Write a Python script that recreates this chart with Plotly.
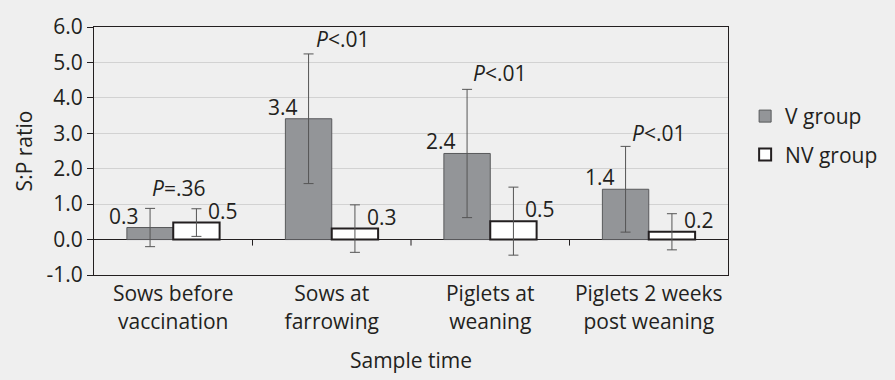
import plotly.graph_objects as go

categories = ["Sows before<br>vaccination", "Sows at<br>farrowing",
              "Piglets at<br>weaning", "Piglets 2 weeks<br>post weaning"]
v_mean = [0.34, 3.41, 2.43, 1.42]
v_err = [0.54, 1.83, 1.81, 1.21]
nv_mean = [0.48, 0.31, 0.52, 0.22]
nv_err = [0.39, 0.67, 0.96, 0.51]
v_labels = ["0.3", "3.4", "2.4", "1.4"]
nv_labels = ["0.5", "0.3", "0.5", "0.2"]
p_labels = ["<i>P</i>=.36", "<i>P</i>&lt;.01", "<i>P</i>&lt;.01", "<i>P</i>&lt;.01"]
p_y = [1.46, 5.66, 4.69, 3.0]
y_tickvals = [-1, 0, 1, 2, 3, 4, 5, 6]
y_ticktext = ["-1.0", "0.0", "1.0", "2.0", "3.0", "4.0", "5.0", "6.0"]

FONT = "Open Sans"
FS = 21
TXT = "#231f20"
P_DX = [5, 11, 9, 10]  # horizontal label nudges (style)

fig = go.Figure()
fig.add_trace(go.Bar(
    x=categories, y=v_mean, name="V group", legendgroup="a",
    marker=dict(color="#939598", line=dict(color="#58595b", width=1)),
    error_y=dict(type="data", array=v_err, color="#555555", thickness=1, width=5),
))
fig.add_trace(go.Bar(
    x=categories, y=nv_mean, name="NV group", legendgroup="b",
    marker=dict(color="#ffffff", line=dict(color="#231f20", width=2)),
    error_y=dict(type="data", array=nv_err, color="#555555", thickness=1, width=5),
))

ann = []
for i in range(len(categories)):
    ann.append(dict(x=i, y=v_mean[i], text=v_labels[i], showarrow=False,
                    xref="x", yref="y", xshift=-49, yshift=12, yanchor="middle",
                    font=dict(family=FONT, size=FS, color=TXT)))
    ann.append(dict(x=i, y=nv_mean[i], text=nv_labels[i], showarrow=False,
                    xref="x", yref="y", xshift=50, yshift=12, yanchor="middle",
                    font=dict(family=FONT, size=FS, color=TXT)))
    ann.append(dict(x=i, y=p_y[i], text=p_labels[i], showarrow=False,
                    xref="x", yref="y", xshift=P_DX[i], yanchor="middle",
                    font=dict(family=FONT, size=FS, color=TXT)))

shapes = []
for i in range(len(categories) - 1):
    shapes.append(dict(type="line", xref="x", yref="y", x0=i + 0.5, x1=i + 0.5,
                       ysizemode="pixel", yanchor=0, y0=0, y1=-6,
                       line=dict(color="#231f20", width=1)))

fig.update_layout(
    width=895, height=380,
    margin=dict(l=94, r=157, t=20, b=102),
    paper_bgcolor="#efefef", plot_bgcolor="#efefef",
    barmode="group", bargap=0.415, bargroupgap=0,
    font=dict(family=FONT, size=FS, color=TXT),
    annotations=ann, shapes=shapes,
    legend=dict(x=1.027, y=0.722, xanchor="left", yanchor="top",
                bgcolor="rgba(0,0,0,0)", traceorder="grouped", tracegroupgap=8,
                font=dict(family=FONT, size=FS, color=TXT)),
    xaxis=dict(showline=True, linecolor="#231f20", linewidth=1, mirror=True,
               ticks="", showgrid=False,
               title=dict(text="Sample time", standoff=19,
                          font=dict(family=FONT, size=FS, color=TXT)),
               tickfont=dict(family=FONT, size=FS, color=TXT)),
    yaxis=dict(range=[-1, 6], tickvals=y_tickvals, ticktext=y_ticktext,
               showline=True, linecolor="#231f20", linewidth=1, mirror=True,
               ticks="outside", ticklen=6, tickcolor="#231f20",
               showgrid=True, gridcolor="#d2d2d2", gridwidth=1,
               zeroline=True, zerolinecolor="#231f20", zerolinewidth=1,
               title=dict(text="S:P ratio", standoff=8,
                          font=dict(family=FONT, size=FS, color=TXT)),
               tickfont=dict(family=FONT, size=FS, color=TXT)),
)

fig.write_html("out.html", config={"displayModeBar": False},
               post_script="document.body.style.margin='0';document.body.style.background='#efefef';")
